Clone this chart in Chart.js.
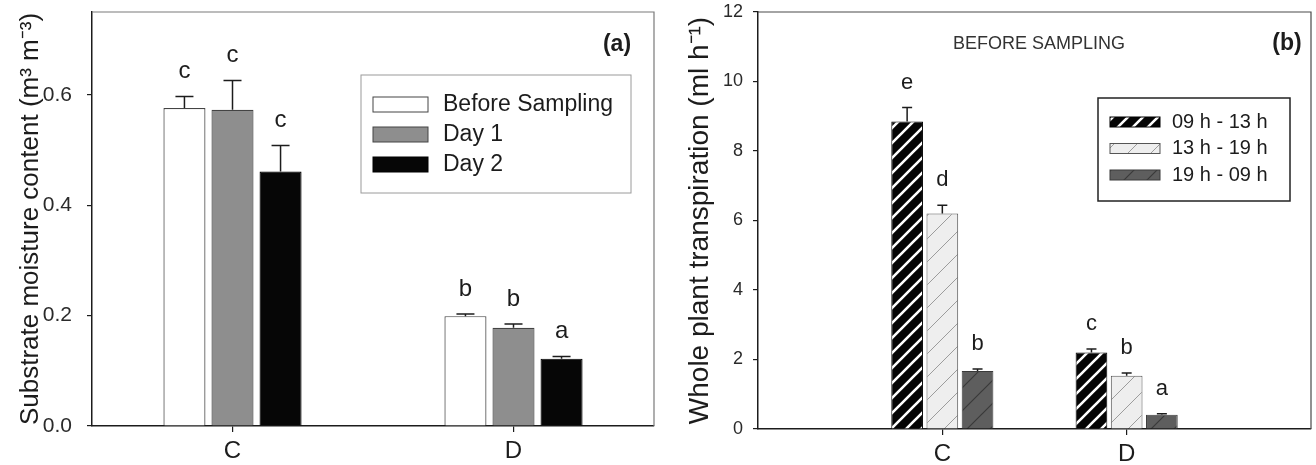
<!DOCTYPE html>
<html>
<head>
<meta charset="utf-8">
<script src="https://cdn.jsdelivr.net/npm/chart.js@4.4.1/dist/chart.umd.min.js"></script>
<style>
  body { margin: 0; background: #fff; }
  #wrap { position: relative; width: 1316px; height: 465px; }
  canvas { position: absolute; top: 0; }
</style>
</head>
<body>
<div id="wrap">
  <canvas id="moisture" width="660" height="465" style="left:0"></canvas>
  <canvas id="transp" width="656" height="465" style="left:660px"></canvas>
</div>
<script>
const categories = ['C', 'D'];

// (a) substrate moisture content, m3 m-3
const beforeSampling = [0.576, 0.199];
const beforeSamplingErr = [0.021, 0.004];
const beforeSamplingLetters = ['c', 'b'];
const day1 = [0.573, 0.178];
const day1Err = [0.053, 0.007];
const day1Letters = ['c', 'b'];
const day2 = [0.461, 0.122];
const day2Err = [0.047, 0.004];
const day2Letters = ['c', 'a'];
const moistureTicks = [0, 0.2, 0.4, 0.6];

// (b) whole plant transpiration, ml h-1
const h0913 = [8.85, 2.2];
const h0913Err = [0.4, 0.1];
const h0913Letters = ['e', 'c'];
const h1319 = [6.2, 1.53];
const h1319Err = [0.24, 0.08];
const h1319Letters = ['d', 'b'];
const h1909 = [1.67, 0.41];
const h1909Err = [0.06, 0.03];
const h1909Letters = ['b', 'a'];
const transpTicks = [0, 2, 4, 6, 8, 10, 12];

const FONT = "'Liberation Sans', Arial, sans-serif";
const INK = '#1c1c1c';

// diagonal hatch fill
function hatch(bg, line, lw, s) {
  const c = document.createElement('canvas');
  c.width = s; c.height = s;
  const g = c.getContext('2d');
  g.fillStyle = bg;
  g.fillRect(0, 0, s, s);
  g.strokeStyle = line;
  g.lineWidth = lw;
  g.beginPath();
  g.moveTo(0, s); g.lineTo(s, 0);
  g.moveTo(-s / 2, s / 2); g.lineTo(s / 2, -s / 2);
  g.moveTo(s / 2, s * 1.5); g.lineTo(s * 1.5, s / 2);
  g.stroke();
  return g.createPattern(c, 'repeat');
}

// y axis: fixed width, no extra vertical padding from tick labels
const fixY = w => s => { s.width = w; s.paddingTop = 0; s.paddingBottom = 0; };

const panelPlugin = {
  id: 'panel',
  afterDatasetsDraw(chart, args, opts) {
    const ctx = chart.ctx;
    const area = chart.chartArea;
    const y = chart.scales.y;
    ctx.save();

    // frame, top and right
    ctx.strokeStyle = opts.frameColor;
    ctx.lineWidth = 1.2;
    ctx.beginPath();
    ctx.moveTo(area.left, area.top);
    ctx.lineTo(area.right, area.top);
    ctx.lineTo(area.right, area.bottom);
    ctx.stroke();

    // error bars + letters
    chart.data.datasets.forEach((ds, di) => {
      const meta = chart.getDatasetMeta(di);
      meta.data.forEach((bar, i) => {
        const v = ds.data[i];
        if (v == null) return;
        const top = y.getPixelForValue(v + ds.err[i]);
        ctx.strokeStyle = INK;
        ctx.lineWidth = 1.5;
        ctx.beginPath();
        ctx.moveTo(bar.x, bar.y);
        ctx.lineTo(bar.x, top);
        ctx.moveTo(bar.x - opts.cap / 2, top);
        ctx.lineTo(bar.x + opts.cap / 2, top);
        ctx.stroke();
        ctx.fillStyle = INK;
        ctx.font = opts.letterFont;
        ctx.textAlign = 'center';
        ctx.textBaseline = 'middle';
        ctx.fillText(ds.letters[i], bar.x, top - opts.letterGap);
      });
    });

    // notes
    opts.notes.forEach(n => {
      ctx.font = n.font;
      ctx.fillStyle = n.color;
      ctx.textAlign = 'center';
      ctx.textBaseline = 'middle';
      ctx.fillText(n.text, n.x, n.y);
    });

    // legend box
    const L = opts.legend;
    ctx.strokeStyle = L.border;
    ctx.lineWidth = L.lineWidth;
    ctx.strokeRect(L.x, L.y, L.w, L.h);
    chart.data.datasets.forEach((ds, di) => {
      const cy = L.firstRow + di * L.rowGap;
      ctx.fillStyle = ds.backgroundColor;
      ctx.fillRect(L.swX, cy - L.swH / 2, L.swW, L.swH);
      ctx.strokeStyle = ds.borderColor;
      ctx.lineWidth = 1;
      ctx.strokeRect(L.swX, cy - L.swH / 2, L.swW, L.swH);
      ctx.fillStyle = INK;
      ctx.font = L.font;
      ctx.textAlign = 'left';
      ctx.textBaseline = 'middle';
      ctx.fillText(ds.label, L.textX, cy);
    });
    ctx.restore();
  }
};

// ---------- (a) ----------
new Chart(document.getElementById('moisture').getContext('2d'), {
  type: 'bar',
  data: {
    labels: categories,
    datasets: [
      { label: 'Before Sampling', data: beforeSampling, err: beforeSamplingErr, letters: beforeSamplingLetters,
        backgroundColor: '#ffffff', borderColor: '#444444', borderWidth: 1.2 },
      { label: 'Day 1', data: day1, err: day1Err, letters: day1Letters,
        backgroundColor: '#8e8e8e', borderColor: '#444444', borderWidth: 1.2 },
      { label: 'Day 2', data: day2, err: day2Err, letters: day2Letters,
        backgroundColor: '#060606', borderColor: '#000000', borderWidth: 1.2 }
    ]
  },
  options: {
    responsive: false,
    animation: false,
    layout: { padding: { left: 0, right: 6, top: 12, bottom: 0 } },
    datasets: { bar: { categoryPercentage: 0.513, barPercentage: 0.875 } },
    scales: {
      x: {
        grid: { offset: false, drawOnChartArea: false, tickLength: 6, tickColor: INK, lineWidth: 1.2 },
        border: { color: INK, width: 1.5 },
        ticks: { color: INK, font: { family: FONT, size: 24 }, padding: 5 },
        afterFit: s => { s.height = 39; }
      },
      y: {
        min: 0,
        max: 0.75,
        afterBuildTicks: s => { s.ticks = moistureTicks.map(v => ({ value: v })); },
        grid: { drawOnChartArea: false, tickLength: 5, tickColor: INK, lineWidth: 1.2 },
        border: { color: INK, width: 1.5 },
        ticks: { color: '#2a2a2a', font: { family: FONT, size: 21 }, padding: 15,
                 callback: v => v.toFixed(1) },
        title: { display: true, text: 'Substrate moisture content (m³ m⁻³)', color: INK,
                 font: { family: FONT, size: 26 }, padding: { top: 15, bottom: 0 } },
        afterFit: fixY(92)
      }
    },
    plugins: {
      legend: { display: false },
      tooltip: { enabled: false },
      panel: {
        frameColor: '#7a7a7a',
        cap: 18,
        letterFont: '24px ' + FONT,
        letterGap: 25,
        notes: [{ text: '(a)', x: 617, y: 45, font: 'bold 23px ' + FONT, color: INK }],
        legend: { x: 361, y: 75, w: 270, h: 118, border: '#9a9a9a', lineWidth: 1,
                  swX: 373, swW: 55, swH: 15, firstRow: 104.5, rowGap: 30,
                  textX: 443, font: '23px ' + FONT }
      }
    }
  },
  plugins: [panelPlugin]
});

// ---------- (b) ----------
const padded = arr => [null, ...arr, null];

new Chart(document.getElementById('transp').getContext('2d'), {
  type: 'bar',
  data: {
    labels: ['', ...categories, ''],
    datasets: [
      { label: '09 h - 13 h', data: padded(h0913), err: padded(h0913Err), letters: padded(h0913Letters),
        backgroundColor: hatch('#050505', '#ffffff', 2.6, 15), borderColor: '#000000', borderWidth: 1 },
      { label: '13 h - 19 h', data: padded(h1319), err: padded(h1319Err), letters: padded(h1319Letters),
        backgroundColor: hatch('#eeeeee', '#9c9c9c', 1, 23), borderColor: '#555555', borderWidth: 1 },
      { label: '19 h - 09 h', data: padded(h1909), err: padded(h1909Err), letters: padded(h1909Letters),
        backgroundColor: hatch('#5e5e5e', '#3a3a3a', 1.2, 23), borderColor: '#3a3a3a', borderWidth: 1 }
    ]
  },
  options: {
    responsive: false,
    animation: false,
    layout: { padding: { left: 0, right: 1, top: 12, bottom: 0 } },
    datasets: { bar: { categoryPercentage: 0.573, barPercentage: 0.9 } },
    scales: {
      x: {
        offset: false,
        grid: { offset: false, drawOnChartArea: false, tickLength: 6, lineWidth: 1.2,
                tickColor: c => (c.tick && c.tick.label ? INK : 'rgba(0,0,0,0)') },
        border: { color: INK, width: 1.5 },
        ticks: { color: INK, font: { family: FONT, size: 24 }, padding: 5, autoSkip: false, maxRotation: 0 },
        afterFit: s => { s.height = 36; }
      },
      y: {
        min: 0,
        max: 12,
        afterBuildTicks: s => { s.ticks = transpTicks.map(v => ({ value: v })); },
        grid: { drawOnChartArea: false, tickLength: 5, tickColor: INK, lineWidth: 1.2 },
        border: { color: INK, width: 1.5 },
        ticks: { color: '#2a2a2a', font: { family: FONT, size: 18 }, padding: 10 },
        title: { display: true, text: 'Whole plant transpiration (ml h⁻¹)', color: INK,
                 font: { family: FONT, size: 28 }, padding: { top: 23, bottom: 0 } },
        afterFit: fixY(98)
      }
    },
    plugins: {
      legend: { display: false },
      tooltip: { enabled: false },
      panel: {
        frameColor: '#4a4a4a',
        cap: 10,
        letterFont: '22px ' + FONT,
        letterGap: 25,
        notes: [
          { text: 'BEFORE SAMPLING', x: 379, y: 44, font: '18px ' + FONT, color: '#333333' },
          { text: '(b)', x: 627, y: 44, font: 'bold 23px ' + FONT, color: INK }
        ],
        legend: { x: 438, y: 98, w: 192, h: 103, border: '#222222', lineWidth: 1.5,
                  swX: 450, swW: 50, swH: 10, firstRow: 122, rowGap: 26.5,
                  textX: 512, font: '20px ' + FONT }
      }
    }
  },
  plugins: [panelPlugin]
});
</script>
</body>
</html>
